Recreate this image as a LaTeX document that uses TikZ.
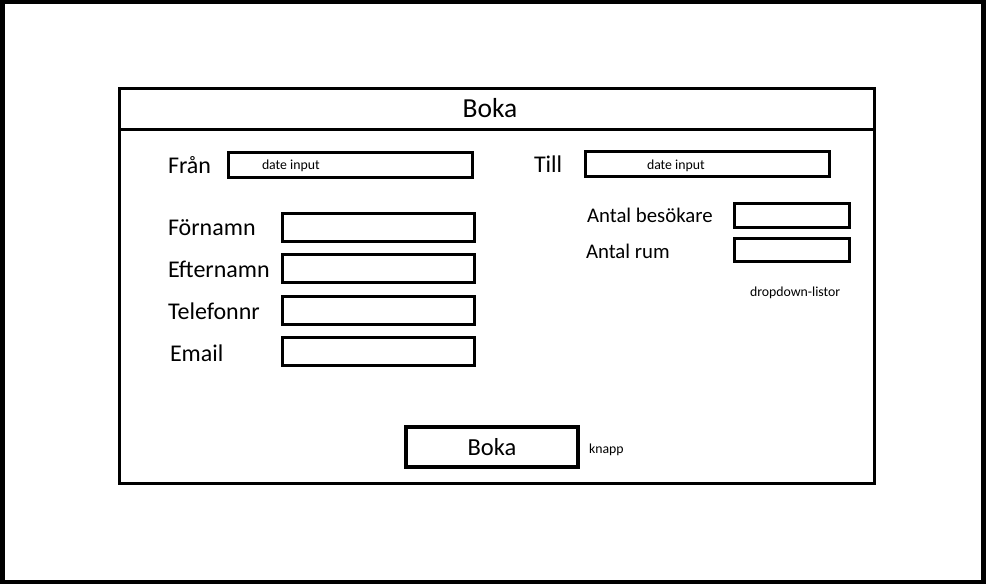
\documentclass[tikz,border=0pt]{standalone}
\usepackage{fontspec}
\setmainfont{Carlito}
\begin{document}
\begin{tikzpicture}[x=1pt,y=-1pt,every node/.style={outer sep=0pt},
  field/.style={draw=black,line width=3pt,inner sep=0pt,minimum width=#1,anchor=north west},
  lbl/.style={inner sep=0pt,anchor=west,font=\fontsize{24}{28}\selectfont},
  lblsm/.style={inner sep=0pt,anchor=west,font=\fontsize{20.8}{24}\selectfont},
  tiny/.style={inner sep=0pt,anchor=west,font=\fontsize{13.8}{16}\selectfont}]
\useasboundingbox (0,0) rectangle (986,584);
\fill[black] (0,0) rectangle (986,584);
\fill[white] (5,4) rectangle (981,580);
% main panel
\node[draw=black,line width=3pt,inner sep=0pt,minimum width=755,minimum height=395,anchor=north west] (panel) at (119.5,88.5) {};
\coordinate (hl) at (119.5,129);
\coordinate (hr) at (874.5,129);
\draw[line width=3pt] (hl) -- (hr);
\node[inner sep=0pt,font=\fontsize{27.5}{31}\selectfont] (title) at (490,108) {Boka};
% date inputs
\node[lbl] (fran) at (168,165) {Från};
\node[field=244,minimum height=25] (franbox) at (228.5,152.5) {};
\node[tiny] (franinp) at (262,165.5) {date input};
\node[lbl] (till) at (534,164) {Till};
\node[field=244,minimum height=25] (tillbox) at (585.5,151.5) {};
\node[tiny] (tillinp) at (647,166) {date input};
% personal fields
\node[lbl] (fn) at (168,228) {Förnamn};
\node[field=192,minimum height=28] (fnbox) at (282.5,213.5) {};
\node[lbl] (en) at (168,269) {Efternamn};
\node[field=192,minimum height=28] (enbox) at (282.5,254.5) {};
\node[lbl] (tel) at (168,311) {Telefonnr};
\node[field=192,minimum height=28] (telbox) at (282.5,296.5) {};
\node[lbl] (em) at (170,353) {Email};
\node[field=192,minimum height=28] (embox) at (282.5,337.5) {};
% dropdowns
\node[lblsm] (ab) at (587,215) {Antal besökare};
\node[field=115,minimum height=24] (abbox) at (734.5,203.5) {};
\node[lblsm] (ar) at (586,251) {Antal rum};
\node[field=115,minimum height=23] (arbox) at (734.5,238.5) {};
\node[tiny] (dd) at (750,293) {dropdown-listor};
% button
\node[draw=black,line width=4.5pt,inner sep=0pt,minimum width=172,minimum height=40,anchor=north west,font=\fontsize{24.5}{28}\selectfont] (btn) at (406,427) {Boka};
\node[tiny] (knapp) at (589,450) {knapp};
\end{tikzpicture}
\end{document}
